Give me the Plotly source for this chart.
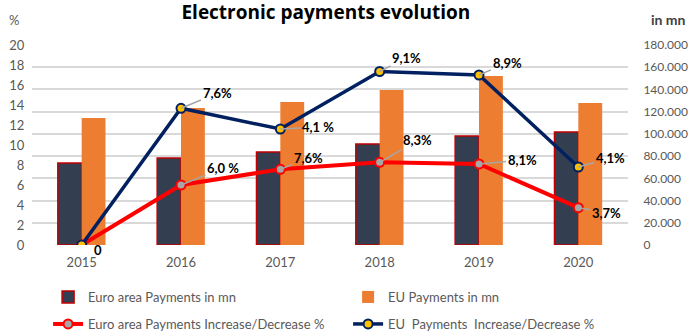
import plotly.graph_objects as go

years = ["2015", "2016", "2017", "2018", "2019", "2020"]
euro_payments = [73800, 78300, 83700, 90900, 98100, 101700]
eu_payments = [114300, 123300, 128700, 139500, 152100, 127800]
euro_change = [0.0, 6.0, 7.57, 8.27, 8.1, 3.73]
eu_change = [0.0, 13.67, 11.6, 17.35, 17.0, 7.8]
euro_labels = ["0", "6,0 %", "7,6%", "8,3%", "8,1%", "3,7%"]
eu_labels = ["", "7,6%", "4,1 %", "9,1%", "8,9%", "4,1%"]
left_ticks = [0, 2, 4, 6, 8, 10, 12, 14, 16, 18, 20]
right_ticks = [0, 20000, 40000, 60000, 80000, 100000, 120000, 140000, 160000, 180000]
right_ticktext = ["0", "20.000", "40.000", "60.000", "80.000", "100.000", "120.000", "140.000", "160.000", "180.000"]

FONT = "Lato"
GREY = "#595959"
xpos = list(range(len(years)))

fig = go.Figure()
fig.add_trace(go.Bar(x=xpos, y=euro_payments, name="Euro area Payments in mn",
                     marker=dict(color="#333F50", line=dict(color="#C00000", width=1.5)),
                     xaxis="x", yaxis="y", legend="legend"))
fig.add_trace(go.Bar(x=xpos, y=eu_payments, name="EU Payments in mn",
                     marker=dict(color="#ED7D31"), xaxis="x", yaxis="y", legend="legend"))
fig.add_trace(go.Scatter(x=xpos, y=euro_change, name="Euro area Payments Increase/Decrease %",
                         mode="lines+markers", xaxis="x", yaxis="y2", legend="legend2",
                         line=dict(color="#FF0000", width=4),
                         marker=dict(size=9, color="#A6A6A6", line=dict(color="#FF0000", width=2))))
fig.add_trace(go.Scatter(x=xpos, y=eu_change, name="EU  Payments  Increase/Decrease %",
                         mode="lines+markers", xaxis="x", yaxis="y2", legend="legend2",
                         line=dict(color="#002060", width=3.5),
                         marker=dict(size=9, color="#FFC000", line=dict(color="#002060", width=2))))

euro_off = [(16, 5), (42, -17), (28, -11), (38, -22), (43, -4), (28, 5)]
eu_off = [(0, 0), (36, -15), (38, -2), (27, -14), (28, -12), (32, -9)]
label_font = dict(family=FONT, size=13, color="black")

annots = []
for i in xpos:
    if i == 0:
        annots.append(dict(x=i, y=euro_change[i], xref="x", yref="y2", text="<b>0</b>",
                           showarrow=False, xshift=16, yshift=-5, font=label_font))
        continue
    ax, ay = euro_off[i]
    annots.append(dict(x=i, y=euro_change[i], xref="x", yref="y2", text="<b>%s</b>" % euro_labels[i],
                       showarrow=True, arrowhead=0, arrowwidth=1.5, arrowcolor="#A6A6A6",
                       ax=ax, ay=ay, font=label_font))
    ax, ay = eu_off[i]
    annots.append(dict(x=i, y=eu_change[i], xref="x", yref="y2", text="<b>%s</b>" % eu_labels[i],
                       showarrow=True, arrowhead=0, arrowwidth=1.5, arrowcolor="#A6A6A6",
                       ax=ax, ay=ay, font=label_font))

annots.append(dict(x=-0.042, y=1.125, xref="paper", yref="paper", xanchor="left", yanchor="middle",
                   text="%", showarrow=False, font=dict(family=FONT, size=13, color=GREY)))
annots.append(dict(x=1.035, y=1.13, xref="paper", yref="paper", xanchor="left", yanchor="middle",
                   text="<b>in mn</b>", showarrow=False, font=dict(family=FONT, size=14, color="#404040")))

fig.update_layout(
    template="none",
    width=690, height=331,
    margin=dict(l=32, r=62, t=45, b=86, autoexpand=False),
    paper_bgcolor="white", plot_bgcolor="white",
    barmode="group", bargap=0.52, bargroupgap=0,
    title=dict(text="<b>Electronic payments evolution</b>", x=0.493, xanchor="center",
               xref="paper", y=0.962, yref="container", yanchor="middle",
               font=dict(family="Open Sans", size=19, color="black")),
    xaxis=dict(range=[-0.5, 5.5], tickvals=xpos, ticktext=years, automargin=False,
               tickfont=dict(family=FONT, size=13, color=GREY), showgrid=False,
               zeroline=False, showline=False, ticks="", ticklabelstandoff=8),
    yaxis=dict(side="right", range=[0, 180000], tickvals=right_ticks, ticktext=right_ticktext,
               automargin=False, ticks="outside", ticklen=12, tickcolor="rgba(0,0,0,0)",
               tickfont=dict(family=FONT, size=12, color=GREY),
               showgrid=True, gridcolor="#D9D9D9", gridwidth=1.5, zeroline=False, showline=False),
    yaxis2=dict(side="left", overlaying="y", anchor="x", range=[0, 20], tickvals=left_ticks,
                automargin=False, ticks="outside", ticklen=4, tickcolor="rgba(0,0,0,0)",
                tickfont=dict(family=FONT, size=13, color=GREY),
                showgrid=False, zeroline=False, showline=False),
    legend=dict(orientation="h", x=0.027, xanchor="left", y=-0.185, yanchor="top",
                entrywidth=255, entrywidthmode="pixels", bgcolor="rgba(0,0,0,0)",
                font=dict(family=FONT, size=13, color=GREY), traceorder="normal"),
    legend2=dict(orientation="h", x=0.027, xanchor="left", y=-0.32, yanchor="top",
                 entrywidth=255, entrywidthmode="pixels", bgcolor="rgba(0,0,0,0)",
                 font=dict(family=FONT, size=13, color=GREY), traceorder="normal"),
    showlegend=True,
    annotations=annots,
)

fig.write_html("out.html", config={"displayModeBar": False},
               post_script="document.body.style.margin='0';")
